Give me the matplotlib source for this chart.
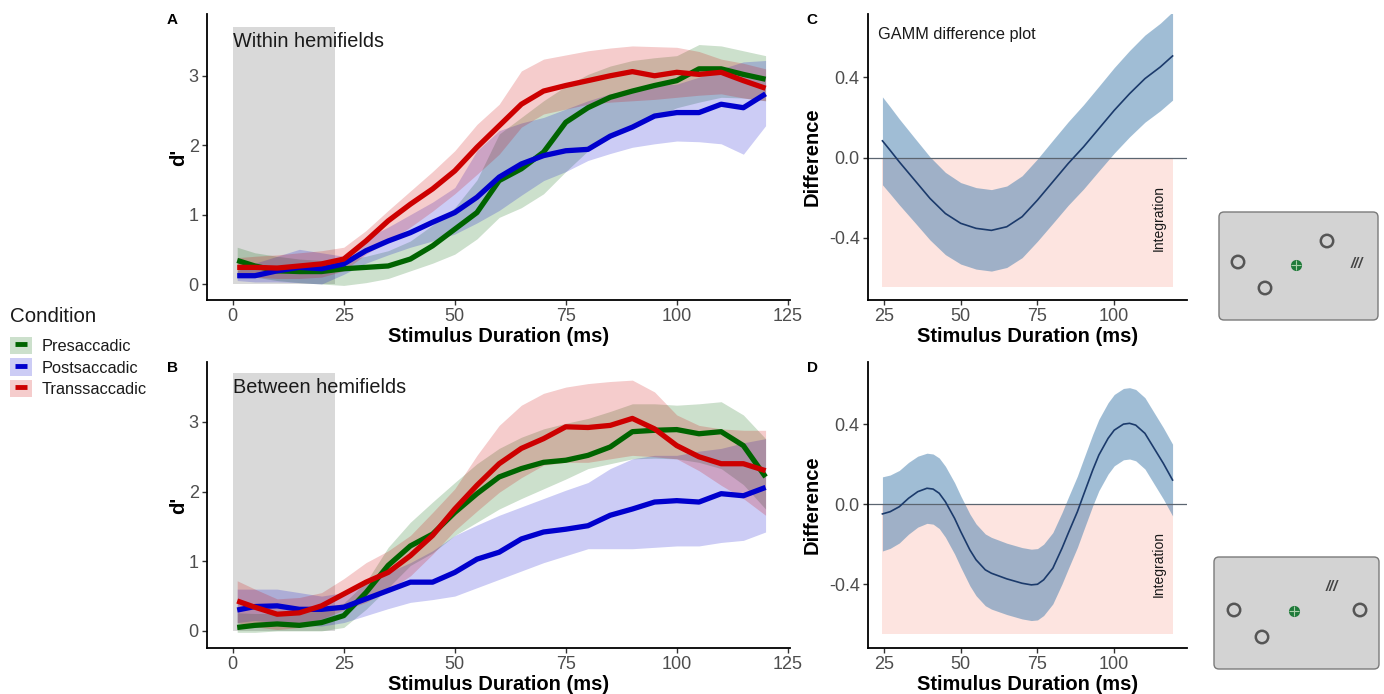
import matplotlib
matplotlib.use("Agg")
import matplotlib.pyplot as plt
from matplotlib.patches import Patch, Rectangle, FancyBboxPatch, Circle
from matplotlib.lines import Line2D

plt.rcParams['font.family'] = ['Liberation Sans', 'DejaVu Sans']

# ---- dados ----
conditions = ['Presaccadic', 'Postsaccadic', 'Transsaccadic']
cond_colors = ['#006400', '#0000cd', '#cd0000']

dur = [1, 5, 10, 15, 20, 25, 30, 35, 40, 45, 50, 55, 60, 65, 70, 75, 80, 85, 90, 95, 100, 105, 110, 115, 120]

# painel A: dentro do hemicampo
a_pre = [0.34, 0.26, 0.19, 0.18, 0.18, 0.22, 0.24, 0.26, 0.36, 0.55, 0.79, 1.03, 1.49, 1.66, 1.90, 2.33, 2.54, 2.69, 2.78, 2.86, 2.93, 3.10, 3.10, 3.02, 2.95]
a_pre_lo = [0.14, 0.10, 0.05, 0.02, 0.00, -0.02, 0.02, 0.08, 0.19, 0.30, 0.43, 0.65, 0.96, 1.10, 1.30, 1.62, 1.92, 2.10, 2.26, 2.40, 2.54, 2.62, 2.69, 2.68, 2.64]
a_pre_hi = [0.53, 0.45, 0.40, 0.36, 0.34, 0.34, 0.40, 0.48, 0.62, 0.85, 1.10, 1.50, 2.16, 2.40, 2.64, 2.85, 3.02, 3.14, 3.22, 3.26, 3.29, 3.45, 3.43, 3.36, 3.29]
a_post = [0.12, 0.12, 0.19, 0.24, 0.22, 0.29, 0.48, 0.62, 0.74, 0.89, 1.03, 1.25, 1.54, 1.73, 1.85, 1.92, 1.94, 2.13, 2.26, 2.42, 2.47, 2.47, 2.59, 2.54, 2.74]
a_post_lo = [0.05, 0.03, 0.03, 0.02, 0.00, 0.14, 0.30, 0.42, 0.53, 0.62, 0.72, 0.88, 1.06, 1.28, 1.49, 1.62, 1.78, 1.88, 1.97, 2.02, 2.06, 2.05, 2.02, 1.87, 2.28]
a_post_hi = [0.19, 0.30, 0.40, 0.50, 0.45, 0.40, 0.66, 0.82, 1.00, 1.18, 1.39, 1.92, 2.21, 2.32, 2.40, 2.52, 2.64, 2.74, 2.80, 2.86, 2.88, 2.98, 3.10, 3.20, 3.22]
a_trans = [0.24, 0.24, 0.23, 0.26, 0.29, 0.36, 0.62, 0.91, 1.15, 1.37, 1.63, 1.97, 2.28, 2.59, 2.78, 2.86, 2.93, 3.00, 3.06, 3.00, 3.05, 3.02, 3.05, 2.93, 2.82]
a_trans_lo = [0.10, 0.10, 0.08, 0.08, 0.10, 0.19, 0.43, 0.62, 0.82, 1.05, 1.30, 1.58, 1.87, 2.26, 2.45, 2.52, 2.59, 2.62, 2.64, 2.66, 2.69, 2.72, 2.74, 2.68, 2.64]
a_trans_hi = [0.38, 0.40, 0.42, 0.45, 0.48, 0.53, 0.77, 1.06, 1.34, 1.62, 1.92, 2.30, 2.59, 3.07, 3.24, 3.30, 3.36, 3.40, 3.43, 3.42, 3.41, 3.35, 3.24, 3.18, 3.10]

# painel B: entre hemicampos
b_pre = [0.05, 0.08, 0.10, 0.08, 0.12, 0.22, 0.55, 0.94, 1.22, 1.39, 1.70, 1.97, 2.21, 2.33, 2.42, 2.45, 2.52, 2.64, 2.86, 2.88, 2.89, 2.83, 2.86, 2.66, 2.21]
b_pre_lo = [-0.02, -0.02, 0.00, 0.00, 0.00, 0.05, 0.31, 0.62, 0.94, 1.12, 1.37, 1.56, 1.75, 1.90, 2.04, 2.18, 2.33, 2.40, 2.47, 2.48, 2.47, 2.42, 2.33, 2.10, 1.75]
b_pre_hi = [0.26, 0.25, 0.25, 0.28, 0.31, 0.40, 0.70, 1.20, 1.56, 1.85, 2.13, 2.40, 2.62, 2.78, 2.90, 2.98, 3.05, 3.15, 3.26, 3.26, 3.24, 3.26, 3.29, 3.10, 2.76]
b_post = [0.30, 0.35, 0.36, 0.31, 0.31, 0.34, 0.46, 0.58, 0.70, 0.70, 0.84, 1.03, 1.13, 1.32, 1.42, 1.46, 1.51, 1.66, 1.75, 1.85, 1.87, 1.85, 1.97, 1.94, 2.06]
b_post_lo = [0.12, 0.15, 0.12, 0.08, 0.07, 0.12, 0.22, 0.32, 0.41, 0.45, 0.50, 0.62, 0.74, 0.86, 0.98, 1.08, 1.18, 1.18, 1.18, 1.20, 1.22, 1.22, 1.27, 1.30, 1.42]
b_post_hi = [0.60, 0.60, 0.60, 0.55, 0.50, 0.55, 0.70, 0.84, 0.98, 1.15, 1.37, 1.52, 1.66, 1.78, 1.90, 2.02, 2.13, 2.33, 2.47, 2.52, 2.52, 2.58, 2.62, 2.70, 2.76]
b_trans = [0.43, 0.34, 0.24, 0.26, 0.36, 0.53, 0.70, 0.84, 1.08, 1.37, 1.75, 2.09, 2.40, 2.62, 2.76, 2.93, 2.92, 2.95, 3.05, 2.90, 2.66, 2.50, 2.40, 2.40, 2.30]
b_trans_lo = [0.12, 0.06, 0.02, 0.05, 0.17, 0.30, 0.41, 0.58, 0.79, 1.10, 1.44, 1.72, 1.99, 2.20, 2.38, 2.42, 2.42, 2.47, 2.52, 2.50, 2.47, 2.30, 2.09, 1.90, 1.66]
b_trans_hi = [0.72, 0.60, 0.46, 0.48, 0.55, 0.75, 0.98, 1.15, 1.37, 1.70, 2.04, 2.52, 2.95, 3.24, 3.41, 3.50, 3.55, 3.58, 3.60, 3.43, 3.10, 2.95, 2.90, 2.88, 2.88]

# painel C: diferença GAMM (dentro)
c_x = [24.5, 27, 30, 35, 40, 45, 50, 55, 60, 65, 70, 75, 80, 85, 90, 95, 100, 105, 110, 115, 119]
c_diff = [0.083, 0.036, -0.022, -0.113, -0.204, -0.279, -0.328, -0.353, -0.363, -0.345, -0.295, -0.212, -0.121, -0.030, 0.053, 0.144, 0.235, 0.318, 0.393, 0.451, 0.506]
c_half = [0.219, 0.217, 0.214, 0.210, 0.207, 0.205, 0.203, 0.203, 0.203, 0.203, 0.204, 0.205, 0.207, 0.208, 0.210, 0.211, 0.213, 0.215, 0.217, 0.218, 0.220]

# painel D: diferença GAMM (entre)
d_x = [24.5, 27, 30, 33, 36, 39, 41, 43, 45, 48, 50, 53, 55, 58, 60, 65, 70, 73, 75, 77,
       80, 83, 85, 88, 90, 93, 95, 98, 100, 103, 105, 107, 110, 113, 116, 119]
d_diff = [-0.048, -0.037, -0.012, 0.030, 0.063, 0.080, 0.076, 0.055, 0.013, -0.070, -0.136, -0.228, -0.277, -0.327, -0.344, -0.372, -0.394, -0.402, -0.399, -0.377,
          -0.319, -0.219, -0.145, -0.037, 0.047, 0.171, 0.246, 0.329, 0.370, 0.400, 0.404, 0.395, 0.354, 0.279, 0.204, 0.121]
d_half = [0.185, 0.183, 0.181, 0.179, 0.177, 0.175, 0.175, 0.176, 0.177, 0.178, 0.178, 0.179, 0.179, 0.179, 0.179, 0.178, 0.178, 0.178, 0.178, 0.178,
          0.178, 0.178, 0.178, 0.178, 0.178, 0.178, 0.178, 0.178, 0.178, 0.178, 0.178, 0.178, 0.178, 0.178, 0.178, 0.179]

mask_end = 23      # fim da região de máscara (ms)
mask_top = 3.7
integ_low = -0.645

W, H = 1384, 694
fig = plt.figure(figsize=(W / 100, H / 100), dpi=100)


def px_axes(left, top, right, bottom):
    return fig.add_axes([left / W, 1 - bottom / H, (right - left) / W, (bottom - top) / H])


def estilo(ax):
    for s in ['top', 'right']:
        ax.spines[s].set_visible(False)
    for s in ['left', 'bottom']:
        ax.spines[s].set_linewidth(1.3)
    ax.tick_params(length=3.5, width=1.0, labelsize=13, labelcolor='#4d4d4d', color='#333333', pad=2.5)


def painel_dprime(ax, series, titulo, ylim):
    ax.add_patch(Rectangle((0, 0), mask_end, mask_top, facecolor='#d9d9d9', edgecolor='none', zorder=0))
    for (m, lo, hi), cor in zip(series, cond_colors):
        ax.fill_between(dur, lo, hi, color=cor, alpha=0.2, linewidth=0, zorder=1)
    for (m, lo, hi), cor in zip(series, cond_colors):
        ax.plot(dur, m, color=cor, lw=3.8, solid_capstyle='butt', solid_joinstyle='round', zorder=2)
    ax.text(0, 3.5, titulo, fontsize=14.3, ha='left', va='center', color='#1a1a1a', zorder=3)
    ax.set_xlim(-5.8, 125.5)
    ax.set_ylim(*ylim)
    ax.set_xticks([0, 25, 50, 75, 100, 125])
    ax.set_yticks([0, 1, 2, 3])
    ax.set_xlabel('Stimulus Duration (ms)', fontsize=14.5, fontweight='bold')
    ax.set_ylabel("d'", fontsize=14.5, fontweight='bold')
    ax.xaxis.set_label_coords(0.5, -0.095)
    ax.yaxis.set_label_coords(-0.033, 0.5)
    estilo(ax)


def painel_diff(ax, x, diff, half, ylim, nota=None):
    lo = [d - h for d, h in zip(diff, half)]
    hi = [d + h for d, h in zip(diff, half)]
    ax.add_patch(Rectangle((x[0], integ_low), x[-1] - x[0], -integ_low, facecolor='#fde4e0', edgecolor='none', zorder=0))
    ax.fill_between(x, lo, hi, color='#4a82b0', alpha=0.52, linewidth=0, zorder=1)
    ax.axhline(0, color='#5b6570', lw=0.9, zorder=2)
    ax.plot(x, diff, color='#1b3a6b', lw=1.2, solid_joinstyle='round', zorder=3)
    ax.text(114.6, -0.30, 'Integration', rotation=90, fontsize=10, ha='center', va='center', color='#1a1a1a')
    if nota:
        ax.text(23, 0.615, nota, fontsize=11.7, ha='left', va='center', color='#1a1a1a')
    ax.set_xlim(19.8, 123.7)
    ax.set_ylim(*ylim)
    ax.set_xticks([25, 50, 75, 100])
    ax.set_yticks([-0.4, 0.0, 0.4])
    ax.set_yticklabels(['-0.4', '0.0', '0.4'])
    ax.set_xlabel('Stimulus Duration (ms)', fontsize=14.5, fontweight='bold')
    ax.set_ylabel('Difference', fontsize=14.5, fontweight='bold')
    ax.xaxis.set_label_coords(0.5, -0.095)
    ax.yaxis.set_label_coords(-0.145, 0.5)
    estilo(ax)


def icone(left, top, right, bottom, alvos, fix, barras):
    ax = px_axes(left, top, right, bottom)
    w, h = right - left, bottom - top
    ax.set_xlim(0, w)
    ax.set_ylim(0, h)
    ax.axis('off')
    ax.add_patch(FancyBboxPatch((1, 1), w - 2, h - 2, boxstyle='round,pad=0,rounding_size=5',
                                facecolor='#d3d3d3', edgecolor='#7a7a7a', lw=1.0))
    for cx, cy in alvos:
        ax.add_patch(Circle((cx, cy), 6.2, facecolor='none', edgecolor='#555555', lw=1.8))
    ax.plot(fix[0], fix[1], 'o', ms=7, color='#1f7a3a')
    ax.plot(fix[0], fix[1], '+', ms=7, mew=0.8, color='#a9cfa9')
    ax.text(barras[0], barras[1], '///', fontsize=10.5, fontstyle='italic', fontweight='bold',
            ha='center', va='center', color='#444444')


ax_a = px_axes(207, 14, 790, 300)
painel_dprime(ax_a, [(a_pre, a_pre_lo, a_pre_hi), (a_post, a_post_lo, a_post_hi), (a_trans, a_trans_lo, a_trans_hi)],
              'Within hemifields', (-0.23, 3.89))
ax_b = px_axes(207, 362, 790, 648)
painel_dprime(ax_b, [(b_pre, b_pre_lo, b_pre_hi), (b_post, b_post_lo, b_post_hi), (b_trans, b_trans_lo, b_trans_hi)],
              'Between hemifields', (-0.245, 3.86))
ax_c = px_axes(868, 14, 1187, 300)
painel_diff(ax_c, c_x, c_diff, c_half, (-0.71, 0.715), nota='GAMM difference plot')
ax_d = px_axes(868, 362, 1187, 648)
painel_diff(ax_d, d_x, d_diff, d_half, (-0.717, 0.71))

for letra, x, y in [('A', 172, 20), ('B', 172, 368), ('C', 812, 20), ('D', 812, 368)]:
    fig.text(x / W, 1 - y / H, letra, fontsize=11, fontweight='bold', ha='center', va='center')

# legenda
fig.text(10 / W, 1 - 316 / H, 'Condition', fontsize=14.8, ha='left', va='center', color='#1a1a1a')
handles = [(Patch(facecolor=c, alpha=0.2, edgecolor='none'),
            Line2D([], [], ls='none', marker='_', ms=9, mew=3.5, color=c)) for c in cond_colors]
leg = fig.legend(handles, conditions, loc='upper left',
                 bbox_to_anchor=(10 / W, 1 - 337 / H), frameon=False, fontsize=11.8,
                 handlelength=1.35, handleheight=1.25,
                 handletextpad=0.6, labelspacing=0.25, borderpad=0, borderaxespad=0)
for t in leg.get_texts():
    t.set_color('#1a1a1a')

# esquemas dos estímulos
icone(1218, 211, 1379, 321, [(20, 59), (47, 33), (109, 80)], (78, 56), (139, 57))
icone(1213, 556, 1380, 670, [(21, 60), (49, 33), (147, 60)], (81, 59), (119, 83))

fig.savefig('out.png', dpi=100)
